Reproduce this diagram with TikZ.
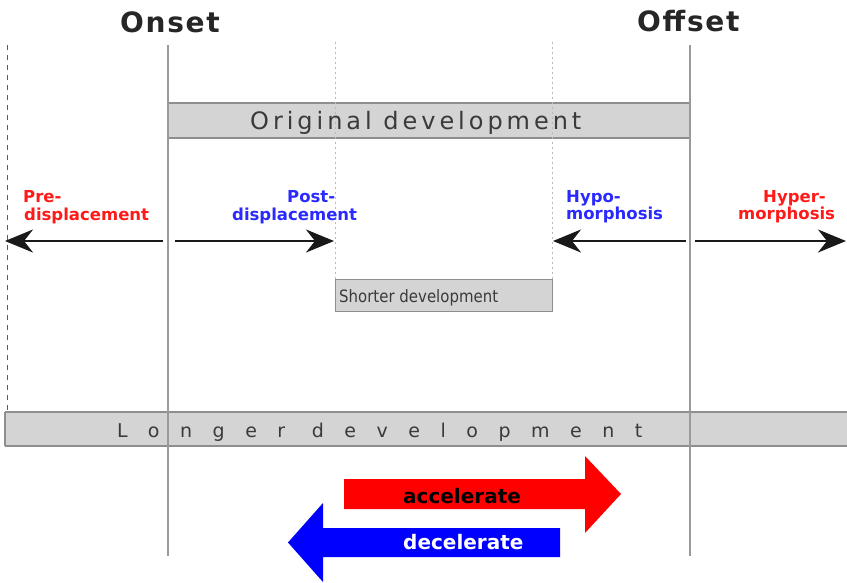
\documentclass[tikz,border=0pt]{standalone}
\usepackage{fontspec}
\setmainfont{DejaVu Sans}
\newfontfamily\condfont[FakeStretch=0.88]{DejaVu Sans}
\newfontfamily\longfont[LetterSpace=108]{DejaVu Sans}
\newfontfamily\origfont[LetterSpace=16.5]{DejaVu Sans}
\newfontfamily\headfont[LetterSpace=6]{DejaVu Sans}
\usetikzlibrary{arrows.meta}
\definecolor{boxfill}{HTML}{D4D4D4}
\definecolor{boxline}{HTML}{8E8E8E}
\definecolor{vgray}{HTML}{9A9A9A}
\definecolor{txtgray}{HTML}{3A3A3A}
\definecolor{lblred}{HTML}{FF1A1A}
\definecolor{lblblue}{HTML}{2A2AFF}
\tikzset{
  vsolid/.style={draw=vgray, line width=1.6pt},
  vdash/.style={draw=black!65, line width=1pt, dash pattern=on 5pt off 5pt},
  vdot/.style={draw=gray!55, line width=1pt, dash pattern=on 2pt off 3pt},
  devbox/.style={fill=boxfill, draw=boxline, line width=1.5pt},
  bigarrow/.style={draw=black!90, line width=2.6pt, -{Stealth[length=28pt,width=23pt,inset=9pt]}},
  lbl/.style={inner sep=0pt, anchor=base west, font=\bfseries\fontsize{16.5}{18}\selectfont},
  head/.style={inner sep=0pt, anchor=base west, font=\headfont\bfseries\fontsize{28}{30}\selectfont, text=black!85},
}
\begin{document}
\begin{tikzpicture}[x=1pt,y=-1pt]
\useasboundingbox (0,0) rectangle (847,582);
% boxes
\draw[devbox] (168,103) rectangle (690,138);
\draw[devbox, line width=1pt] (335,279) rectangle (552,311);
\draw[devbox] (5,412) -- (848,412) (5,446) -- (848,446) (5,412) -- (5,446);
\fill[boxfill] (5.8,412.8) rectangle (847,445.2);
% vertical lines
\coordinate (d1t) at (7,45);  \coordinate (d1b) at (7,412);
\coordinate (s1t) at (168,45); \coordinate (s1b) at (168,556);
\coordinate (p1t) at (335,42); \coordinate (p1b) at (335,279);
\coordinate (p2t) at (552,42); \coordinate (p2b) at (552,279);
\coordinate (s2t) at (690,45); \coordinate (s2b) at (690,556);
\draw[vdash] (d1t) -- (d1b);
\draw[vsolid] (s1t) -- (s1b);
\draw[vdot] (p1t) -- (p1b);
\draw[vdot] (p2t) -- (p2b);
\draw[vsolid] (s2t) -- (s2b);
% titles
\node[head] (onset) at (120,32) {Onset};
\node[head] (offset) at (637,31) {Offset};
% box texts
\node[inner sep=0pt, anchor=base west, text=txtgray, font=\origfont\fontsize{24}{26}\selectfont] (orig) at (250,129) {Original development};
\node[inner sep=0pt, anchor=base west, text=txtgray, font=\condfont\fontsize{17}{19}\selectfont] (short) at (339,302) {Shorter development};
\node[inner sep=0pt, anchor=base west, text=txtgray, font=\longfont\fontsize{19}{21}\selectfont] (long) at (117,437) {Longer development};
% black arrows
\coordinate (a1s) at (163,241); \coordinate (a1e) at (5,241);
\coordinate (a2s) at (175,241); \coordinate (a2e) at (334,241);
\coordinate (a3s) at (686,241); \coordinate (a3e) at (553,241);
\coordinate (a4s) at (695,241); \coordinate (a4e) at (846,241);
\draw[bigarrow] (a1s) -- (a1e);
\draw[bigarrow] (a2s) -- (a2e);
\draw[bigarrow] (a3s) -- (a3e);
\draw[bigarrow] (a4s) -- (a4e);
% labels
\node[lbl, text=lblred] (pre1) at (23,202) {Pre-};
\node[lbl, text=lblred] (pre2) at (24,220) {displacement};
\node[lbl, text=lblblue] (post1) at (287,202) {Post-};
\node[lbl, text=lblblue] (post2) at (232,220) {displacement};
\node[lbl, text=lblblue] (hypo1) at (566,202) {Hypo-};
\node[lbl, text=lblblue] (hypo2) at (566,219) {morphosis};
\node[lbl, text=lblred] (hyper1) at (763,202) {Hyper-};
\node[lbl, text=lblred] (hyper2) at (738,219) {morphosis};
% accelerate / decelerate arrows
\fill[red] (344,479) -- (585,479) -- (585,456) -- (621,494) -- (585,533) -- (585,509) -- (344,509) -- cycle;
\fill[blue] (560,528) -- (323,528) -- (323,503) -- (288,542.5) -- (323,582) -- (323,557) -- (560,557) -- cycle;
\node[inner sep=0pt, anchor=base west, font=\bfseries\fontsize{20}{22}\selectfont, text=black] (acc) at (403,503) {accelerate};
\node[inner sep=0pt, anchor=base west, font=\bfseries\fontsize{20}{22}\selectfont, text=white] (dec) at (403,549) {decelerate};
\end{tikzpicture}
\end{document}
